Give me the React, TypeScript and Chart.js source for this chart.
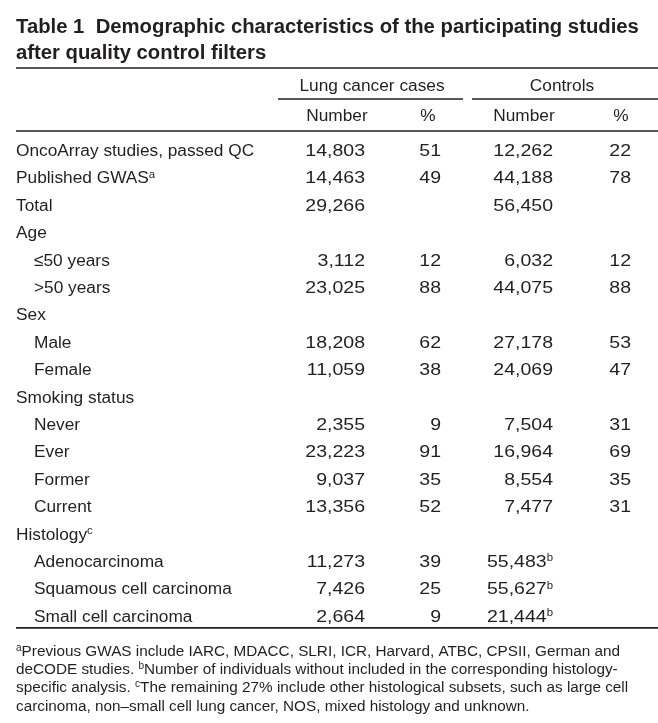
import React, { useEffect, useRef } from "react";
import { Chart, registerables } from "chart.js";

Chart.register(...registerables);

// ---------------- DATA ----------------
const TITLE_LINES = [
  "Table 1  Demographic characteristics of the participating studies",
  "after quality control filters",
];
const GROUP_HEADERS = ["Lung cancer cases", "Controls"];
const COLUMN_HEADERS = ["Number", "%", "Number", "%"];

const ROW_LABELS = [
  "OncoArray studies, passed QC",
  "Published GWAS",
  "Total",
  "Age",
  "\u226450 years",
  ">50 years",
  "Sex",
  "Male",
  "Female",
  "Smoking status",
  "Never",
  "Ever",
  "Former",
  "Current",
  "Histology",
  "Adenocarcinoma",
  "Squamous cell carcinoma",
  "Small cell carcinoma",
];
const ROW_LABEL_NOTES = ["", "a", "", "", "", "", "", "", "", "", "", "", "", "", "c", "", "", ""];
const ROW_IS_SUBITEM = [false, false, false, false, true, true, false, true, true, false, true, true, true, true, false, true, true, true];

const CASE_NUMBERS = [14803, 14463, 29266, null, 3112, 23025, null, 18208, 11059, null, 2355, 23223, 9037, 13356, null, 11273, 7426, 2664];
const CASE_PERCENTS = [51, 49, null, null, 12, 88, null, 62, 38, null, 9, 91, 35, 52, null, 39, 25, 9];
const CONTROL_NUMBERS = [12262, 44188, 56450, null, 6032, 44075, null, 27178, 24069, null, 7504, 16964, 8554, 7477, null, 55483, 55627, 21444];
const CONTROL_NUMBER_NOTES = ["", "", "", "", "", "", "", "", "", "", "", "", "", "", "", "b", "b", "b"];
const CONTROL_PERCENTS = [22, 78, null, null, 12, 88, null, 53, 47, null, 31, 69, 35, 31, null, null, null, null];

type Run = { t: string; sup?: boolean };
const FOOTNOTES: Run[][] = [
  [{ t: "a", sup: true }, { t: "Previous GWAS include IARC, MDACC, SLRI, ICR, Harvard, ATBC, CPSII, German and" }],
  [{ t: "deCODE studies. " }, { t: "b", sup: true }, { t: "Number of individuals without included in the corresponding histology-" }],
  [{ t: "specific analysis. " }, { t: "c", sup: true }, { t: "The remaining 27% include other histological subsets, such as large cell" }],
  [{ t: "carcinoma, non\u2013small cell lung cancer, NOS, mixed histology and unknown." }],
];

// ---------------- LAYOUT / STYLE ----------------
const W = 658;
const H = 723;
const FONT = '"Liberation Sans", Arial, sans-serif';
const INK = "#231f20";
const BODY_SIZE = 17.3;
const NUM_STRETCH = 1.13;
const TITLE_SIZE = 20.3;
const FOOT_SIZE = 15.3;
const SUP_RATIO = 0.66;
const LABEL_X = 16;
const SUBITEM_X = 34;
const COLUMN_RIGHT = [365, 441, 553, 631];
const COLUMN_HEADER_CENTER = [337, 428, 524, 621];
const GROUP_CENTER = [372, 562];
const GROUP_RULE = [
  [278, 463],
  [472, 658],
];
const TITLE_BASELINES = [33, 59];
const TOP_RULE_Y = 68;
const GROUP_HEADER_Y = 85;
const GROUP_RULE_Y = 99;
const COLUMN_HEADER_Y = 115;
const HEADER_RULE_Y = 131;
const FOOT_CENTERS = [651, 669, 687, 706];

const fmt = (v: number) => v.toLocaleString("en-US");

function runsWidth(ctx: CanvasRenderingContext2D, runs: Run[], size: number, stretch: number, weight = "normal") {
  let w = 0;
  for (const r of runs) {
    const s = r.sup ? size * SUP_RATIO : size;
    ctx.font = `${weight} ${s}px ${FONT}`;
    w += ctx.measureText(r.t).width * (r.sup ? 1 : stretch);
  }
  return w;
}

function drawRuns(ctx: CanvasRenderingContext2D, runs: Run[], x: number, baseline: number, size: number, stretch: number, weight = "normal") {
  let cx = x;
  ctx.textAlign = "left";
  ctx.textBaseline = "alphabetic";
  for (const r of runs) {
    const s = r.sup ? size * SUP_RATIO : size;
    const k = r.sup ? 1 : stretch;
    ctx.font = `${weight} ${s}px ${FONT}`;
    const y = r.sup ? baseline - size * 0.33 : baseline;
    ctx.save();
    ctx.translate(cx, y);
    ctx.scale(k, 1);
    ctx.fillText(r.t, 0, 0);
    ctx.restore();
    cx += ctx.measureText(r.t).width * k;
  }
}

const tablePlugin = {
  id: "tableText",
  afterDraw(chart: any) {
    const ctx: CanvasRenderingContext2D = chart.ctx;
    const xs = chart.scales.x;
    const ys = chart.scales.y;
    ctx.save();
    ctx.fillStyle = INK;
    ctx.strokeStyle = INK;

    // title
    TITLE_LINES.forEach((line, i) => {
      drawRuns(ctx, [{ t: line }], LABEL_X, TITLE_BASELINES[i], TITLE_SIZE, 1, "bold");
    });

    // rules
    const hline = (x1: number, x2: number, y: number, lw: number) => {
      ctx.lineWidth = lw;
      ctx.beginPath();
      ctx.moveTo(xs.getPixelForValue(x1), y);
      ctx.lineTo(xs.getPixelForValue(x2), y);
      ctx.stroke();
    };
    hline(LABEL_X, W, TOP_RULE_Y, 1.6);
    GROUP_RULE.forEach(([a, b]) => hline(a, b, GROUP_RULE_Y, 1.3));
    hline(LABEL_X, W, HEADER_RULE_Y, 1.4);
    hline(LABEL_X, W, ys.getPixelForValue(ROW_LABELS.length - 0.5) - 1.5, 1.6);

    const cap = BODY_SIZE * 0.358;
    // headers
    ctx.font = `normal ${BODY_SIZE}px ${FONT}`;
    ctx.textAlign = "center";
    ctx.textBaseline = "alphabetic";
    GROUP_HEADERS.forEach((h, i) => ctx.fillText(h, xs.getPixelForValue(GROUP_CENTER[i]), GROUP_HEADER_Y + cap));
    COLUMN_HEADERS.forEach((h, i) => ctx.fillText(h, xs.getPixelForValue(COLUMN_HEADER_CENTER[i]), COLUMN_HEADER_Y + cap));

    // body cells from dataset elements
    chart.data.datasets.forEach((ds: any, di: number) => {
      const meta = chart.getDatasetMeta(di);
      meta.data.forEach((el: any, i: number) => {
        const raw = ds.data[i];
        const runs: Run[] = [{ t: raw.text }];
        if (raw.note) runs.push({ t: raw.note, sup: true });
        const k = ds.numeric ? NUM_STRETCH : 1;
        let x = el.x;
        if (ds.align === "right") x = el.x - runsWidth(ctx, runs, BODY_SIZE, k);
        drawRuns(ctx, runs, x, el.y + cap, BODY_SIZE, k);
      });
    });

    // footnotes
    const fcap = FOOT_SIZE * 0.358;
    FOOTNOTES.forEach((runs, i) => drawRuns(ctx, runs, LABEL_X, FOOT_CENTERS[i] + fcap, FOOT_SIZE, 1));

    ctx.restore();
  },
};

function buildCells(values: (number | null)[], colX: number, notes?: string[]) {
  const out: any[] = [];
  values.forEach((v, i) => {
    if (v === null) return;
    out.push({ x: colX, y: i, text: fmt(v), note: notes ? notes[i] : "" });
  });
  return out;
}

export default function App() {
  const ref = useRef<HTMLCanvasElement>(null);
  useEffect(() => {
    const labelCells = ROW_LABELS.map((l, i) => ({
      x: ROW_IS_SUBITEM[i] ? SUBITEM_X : LABEL_X,
      y: i,
      text: l,
      note: ROW_LABEL_NOTES[i],
    }));
    const common = { pointRadius: 0, pointHoverRadius: 0, showLine: false };
    const chart = new Chart(ref.current!, {
      type: "scatter",
      data: {
        datasets: [
          { ...common, label: "Characteristic", data: labelCells, align: "left", numeric: false } as any,
          { ...common, label: "Cases number", data: buildCells(CASE_NUMBERS, COLUMN_RIGHT[0]), align: "right", numeric: true } as any,
          { ...common, label: "Cases %", data: buildCells(CASE_PERCENTS, COLUMN_RIGHT[1]), align: "right", numeric: true } as any,
          { ...common, label: "Controls number", data: buildCells(CONTROL_NUMBERS, COLUMN_RIGHT[2], CONTROL_NUMBER_NOTES), align: "right", numeric: true } as any,
          { ...common, label: "Controls %", data: buildCells(CONTROL_PERCENTS, COLUMN_RIGHT[3]), align: "right", numeric: true } as any,
        ],
      },
      options: {
        animation: false,
        responsive: false,
        devicePixelRatio: 1,
        events: [],
        layout: { padding: { left: 0, right: 0, top: 136, bottom: 93.6 } },
        plugins: { legend: { display: false }, tooltip: { enabled: false }, title: { display: false } },
        scales: {
          x: { type: "linear", min: 0, max: W, display: false },
          y: { type: "linear", min: -0.5, max: ROW_LABELS.length - 0.5, reverse: true, display: false },
        },
      },
      plugins: [tablePlugin],
    });
    return () => chart.destroy();
  }, []);
  return (
    <div style={{ position: "absolute", left: 0, top: 0, width: W, height: H, background: "#fff" }}>
      <canvas ref={ref} width={W} height={H} style={{ display: "block" }} />
    </div>
  );
}
